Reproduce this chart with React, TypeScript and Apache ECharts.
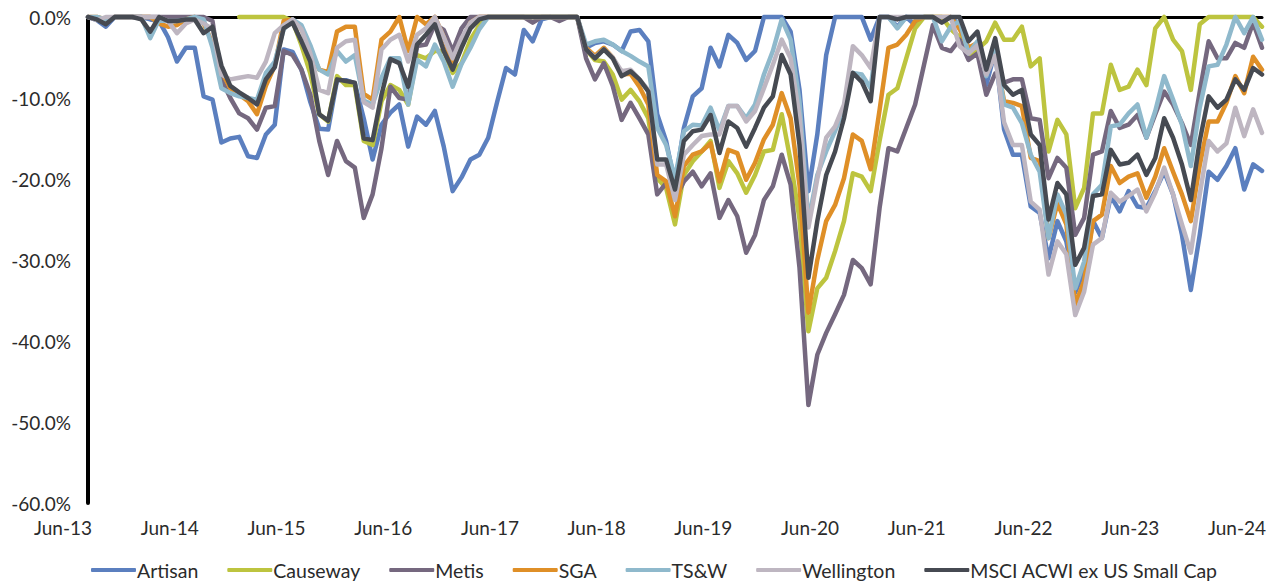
import { useEffect, useRef } from "react";
import * as echarts from "echarts";

// Monthly categories Jun-13 .. Jun-24 (133 months)
const MONTH_NAMES = ["Jan", "Feb", "Mar", "Apr", "May", "Jun", "Jul", "Aug", "Sep", "Oct", "Nov", "Dec"];
const categories: string[] = [];
for (let i = 0; i < 133; i++) {
  const m = (5 + i) % 12;
  const y = 13 + Math.floor((5 + i) / 12);
  categories.push(`${MONTH_NAMES[m]}-${y}`);
}

const yTicks = [0, -10, -20, -30, -40, -50, -60];

const artisan = [
  0, -0.4, -1.2, 0, 0, 0, 0, -0.3, -0.5, -2.5, -5.5, -3.8,
  -3.8, -9.8, -10.2, -15.5, -15.0, -14.8, -17.2, -17.4, -14.5, -13.3, -4.0, -4.3,
  -6.5, -10.5, -13.8, -13.9, -7.8, -7.8, -8.2, -12.5, -17.6, -13.3, -11.8, -10.8,
  -16.0, -12.3, -13.3, -11.6, -16.0, -21.5, -19.8, -17.6, -17.0, -14.9, -10.5, -6.3,
  -7.1, -1.6, -3.0, -0.3, 0, 0, 0, 0, -3.8, -3.2, -3.0, -3.4,
  -4.2, -1.8, -1.6, -3.0, -12.0, -15.3, -20.7, -13.7, -9.8, -8.8, -3.8, -6.1,
  -2.2, -3.2, -5.3, -4.2, 0, 0, 0, -1.8, -9.0, -21.5, -14.5, -4.7,
  0, 0, 0, 0, -2.8, 0, 0, -1.2, 0, -1.0, 0, 0,
  -0.5, 0, -1.0, -4.7, -4.0, -8.4, -4.2, -13.9, -17.0, -17.0, -23.4, -24.2,
  -29.8, -25.2, -27.7, -34.0, -31.4, -25.2, -27.3, -22.1, -24.0, -21.5, -23.4, -23.6,
  -21.5, -19.1, -21.9, -26.9, -33.7, -26.9, -19.1, -20.1, -18.4, -16.2, -21.3, -18.2,
  -19.0,
];

const causeway = [
  null, null, null, null, null, null, null, null, null, null, null, null,
  null, null, null, null, null, 0, 0, 0, 0, 0, 0, -0.5,
  -3.5, -7.0, -12.0, -12.9, -7.3, -8.4, -8.4, -15.3, -15.8, -10.4, -8.4, -9.0,
  -10.8, -4.7, -5.1, -4.2, -4.2, -6.9, -5.7, -2.8, -1.0, 0, 0, 0,
  0, 0, 0, 0, 0, 0, 0, 0, -4.0, -5.3, -5.5, -7.1,
  -10.2, -9.0, -10.4, -12.5, -19.9, -21.1, -25.6, -19.5, -17.8, -16.6, -15.3, -21.1,
  -17.8, -19.3, -21.7, -19.5, -16.6, -16.4, -12.0, -17.8, -25.0, -38.8, -33.5, -32.2,
  -28.9, -25.2, -19.3, -19.7, -21.5, -15.3, -9.6, -8.8, -5.1, -1.4, 0, 0,
  0, -1.5, -2.5, -5.1, -4.0, -3.0, -0.7, -2.8, -2.8, -1.2, -6.1, -5.1,
  -16.6, -12.7, -14.5, -23.6, -21.1, -11.9, -11.9, -5.9, -9.0, -8.6, -6.5, -8.4,
  -1.4, 0, -2.8, -4.2, -9.0, -0.9, 0, 0, 0, 0, 0, 0,
  -1.2,
];

const metis = [
  0, -0.3, -0.5, 0, 0, 0, 0, 0, 0, 0, 0, 0,
  0, 0, -0.5, -7.7, -10.0, -11.9, -12.5, -13.9, -11.2, -11.0, -4.2, -4.7,
  -6.5, -9.6, -15.3, -19.5, -15.3, -17.8, -18.6, -24.8, -21.9, -16.2, -8.6, -10.0,
  -10.2, -3.6, -3.4, -0.9, -1.6, -4.2, -1.4, 0, 0, 0, 0, 0,
  0, 0, -0.7, 0, 0, -0.5, 0, 0, -5.1, -7.7, -5.7, -8.5,
  -12.7, -10.6, -12.5, -14.5, -21.9, -20.5, -22.5, -20.3, -19.1, -20.9, -19.3, -24.8,
  -22.6, -24.6, -29.1, -26.9, -22.6, -20.9, -17.0, -20.7, -31.0, -47.9, -41.7, -39.0,
  -36.7, -34.3, -30.0, -31.0, -33.0, -23.6, -16.2, -16.6, -13.7, -10.8, -5.9, -1.0,
  -3.8, -4.2, -2.8, -5.3, -4.5, -9.6, -7.0, -8.1, -7.7, -7.7, -12.5, -12.7,
  -19.9, -17.4, -18.6, -26.9, -24.8, -17.0, -16.6, -11.6, -13.7, -13.3, -12.1, -14.9,
  -12.0, -9.2, -10.8, -13.1, -15.8, -9.2, -3.0, -5.1, -5.1, -3.2, -3.8, -0.7,
  -3.8,
];

const sga = [
  0, 0, -0.3, 0, 0, 0, 0, 0, -0.8, -1.2, -1.0, -0.3,
  0, -0.8, -3.2, -6.7, -8.8, -9.6, -10.4, -12.0, -8.5, -6.0, -0.5, -0.3,
  -1.5, -4.0, -6.5, -6.8, -1.8, -1.2, -1.2, -9.5, -10.2, -2.8, -1.8, 0,
  -4.2, 0, -0.9, 0, -2.5, -6.0, -3.0, -0.7, 0, 0, 0, 0,
  0, 0, 0, 0, 0, 0, 0, 0, -3.8, -4.8, -3.8, -5.0,
  -7.1, -7.0, -8.6, -10.8, -19.5, -20.3, -24.6, -18.4, -17.0, -16.6, -15.6, -20.3,
  -16.4, -16.8, -20.1, -18.0, -15.1, -13.3, -9.4, -12.5, -20.8, -36.5, -30.0, -25.2,
  -23.2, -19.9, -14.5, -15.3, -18.8, -11.5, -3.8, -3.4, -2.2, -0.5, 0, 0,
  0, 0, -1.5, -3.8, -3.2, -7.1, -4.5, -10.4, -10.6, -11.0, -17.4, -17.8,
  -27.3, -23.0, -25.6, -35.5, -32.6, -25.2, -24.4, -18.4, -20.5, -19.7, -19.3, -22.3,
  -19.7, -16.2, -19.1, -21.9, -25.2, -18.3, -12.9, -12.9, -10.6, -7.3, -9.4, -4.9,
  -6.5,
];

const tsw = [
  0, 0, -0.3, 0, 0, 0, 0, -2.6, -0.3, -0.5, -0.5, -0.3,
  0, -0.3, -3.8, -8.8, -9.4, -9.8, -10.0, -10.2, -6.9, -5.5, -1.5, -0.3,
  -1.0, -3.5, -6.5, -7.1, -4.2, -5.5, -4.7, -10.3, -10.8, -7.5, -5.1, -5.1,
  -10.8, -5.3, -6.1, -3.4, -5.5, -8.6, -5.8, -3.8, -1.5, 0, 0, 0,
  0, 0, 0, 0, 0, 0, 0, 0, -3.4, -3.0, -2.8, -3.4,
  -4.2, -4.8, -5.5, -6.1, -13.7, -15.8, -19.9, -14.1, -13.3, -13.4, -11.2, -14.0,
  -11.0, -11.0, -12.5, -10.8, -7.1, -4.2, -0.3, -2.8, -10.5, -25.2, -19.5, -16.6,
  -14.1, -11.2, -6.9, -7.1, -8.8, 0, 0, -1.4, 0, 0, 0, 0,
  -3.0, -1.2, -0.5, -4.5, -3.0, -7.3, -3.8, -10.8, -11.2, -13.1, -17.0, -19.1,
  -27.3, -21.9, -24.4, -33.5, -30.2, -21.9, -20.7, -13.5, -13.3, -11.9, -10.8, -14.9,
  -11.6, -7.3, -10.2, -13.3, -18.4, -11.2, -6.1, -5.9, -3.4, 0, -2.0, 0,
  -2.8,
];

const wellington = [
  0, -0.4, 0, 0, 0, 0, 0, 0, 0, -0.5, -2.0, -0.8,
  -0.3, -0.8, -1.5, -7.1, -7.7, -7.5, -7.3, -7.5, -5.5, -2.0, -1.0, -0.3,
  -1.5, -4.5, -9.0, -9.4, -3.8, -3.0, -2.8, -10.5, -11.2, -4.0, -2.8, -2.2,
  -5.5, -2.2, -1.4, 0, -2.5, -5.1, -2.6, -0.7, 0, 0, 0, 0,
  0, 0, 0, 0, 0, 0, 0, 0, -4.0, -5.0, -4.0, -5.0,
  -6.7, -6.5, -7.7, -9.0, -18.2, -18.2, -22.6, -17.0, -15.8, -14.7, -14.5, -14.5,
  -11.0, -11.0, -12.9, -11.6, -8.8, -5.9, -2.8, -5.1, -12.3, -26.0, -20.0, -14.9,
  -13.5, -10.8, -3.6, -4.7, -6.3, 0, 0, 0, 0, 0, 0, 0,
  0, 0, -3.6, -4.5, -3.5, -7.1, -4.8, -13.0, -15.8, -15.8, -22.8, -23.8,
  -31.8, -27.7, -29.3, -36.8, -33.9, -28.1, -27.3, -21.7, -22.8, -22.1, -21.3, -24.0,
  -21.7, -18.6, -21.9, -25.6, -29.1, -21.9, -15.3, -16.6, -15.6, -11.2, -14.7, -11.4,
  -14.3,
];

const msci = [
  0, -0.3, -0.9, 0, 0, 0, -0.3, -1.8, 0, -0.5, -0.5, -0.3,
  -0.3, -2.0, -1.2, -6.0, -8.5, -9.3, -10.0, -10.8, -7.7, -6.2, -1.4, -0.7,
  -3.0, -5.5, -12.0, -12.8, -7.7, -7.9, -8.1, -15.0, -15.2, -9.6, -5.2, -5.7,
  -8.6, -3.4, -2.2, -0.9, -4.2, -6.5, -3.8, -1.4, -0.3, 0, 0, 0,
  0, 0, 0, 0, 0, 0, 0, 0, -4.0, -5.1, -4.0, -5.1,
  -7.3, -6.7, -7.7, -9.2, -17.6, -17.6, -21.3, -15.3, -14.1, -13.9, -12.1, -16.8,
  -12.9, -13.7, -16.0, -13.7, -11.2, -9.8, -4.7, -7.1, -15.8, -32.2, -25.2, -19.5,
  -16.6, -12.5, -6.9, -8.0, -10.4, 0, 0, -0.3, 0, 0, 0, 0,
  -0.7, 0, 0, -3.0, -1.8, -6.5, -2.6, -8.4, -9.6, -9.0, -14.5, -15.8,
  -25.0, -20.5, -21.9, -30.6, -28.5, -22.1, -21.9, -16.4, -18.2, -18.0, -17.0, -19.5,
  -17.4, -12.5, -14.9, -18.2, -22.6, -15.3, -9.8, -11.2, -10.2, -7.7, -9.0, -6.3,
  -7.1,
];

const seriesDefs = [
  { name: "Artisan", data: artisan, color: "#5B7FBF" },
  { name: "Causeway", data: causeway, color: "#BDC43F" },
  { name: "Metis", data: metis, color: "#75687F" },
  { name: "SGA", data: sga, color: "#DF8F27" },
  { name: "TS&W", data: tsw, color: "#8FB9CC" },
  { name: "Wellington", data: wellington, color: "#BEB6C1" },
  { name: "MSCI ACWI ex US Small Cap", data: msci, color: "#464A52" },
];

const FONT = "Lato, 'Open Sans', sans-serif";
const TEXT_COLOR = "#2b2b2b";

export default function App() {
  const ref = useRef<HTMLDivElement>(null);

  useEffect(() => {
    if (!ref.current) return;
    const chart = echarts.init(ref.current, undefined, { renderer: "svg" });
    chart.setOption({
      animation: false,
      backgroundColor: "#ffffff",
      grid: { left: 88, right: 9, top: 17, bottom: 82, containLabel: false },
      legend: {
        data: seriesDefs.map((s) => s.name),
        left: 91,
        top: 560,
        padding: 0,
        icon: "roundRect",
        itemWidth: 45,
        itemHeight: 4,
        itemGap: 29,
        textStyle: { fontFamily: FONT, fontSize: 19.5, color: TEXT_COLOR, padding: [0, 0, 0, -4] },
      },
      xAxis: [
        {
          type: "category",
          data: categories,
          boundaryGap: false,
          position: "bottom",
          axisLine: { show: false },
          axisTick: { show: false },
          splitLine: { show: false },
          axisLabel: {
            interval: 11,
            margin: 15,
            fontFamily: FONT,
            fontSize: 19,
            color: TEXT_COLOR,
            padding: [0, 50, 0, 0],
          },
        },
        {
          type: "category",
          data: categories,
          boundaryGap: false,
          position: "top",
          axisLine: { show: true, onZero: false, lineStyle: { color: "#000000", width: 3 } },
          axisTick: { show: false },
          axisLabel: { show: false },
          splitLine: { show: false },
        },
      ],
      yAxis: {
        type: "value",
        min: yTicks[yTicks.length - 1],
        max: yTicks[0],
        interval: 10,
        axisLine: { show: true, lineStyle: { color: "#000000", width: 4 } },
        axisTick: { show: false },
        splitLine: { show: false },
        axisLabel: {
          margin: 17,
          fontFamily: FONT,
          fontSize: 19,
          color: TEXT_COLOR,
          formatter: (v: number) => `${v.toFixed(1)}%`,
        },
      },
      series: seriesDefs.map((s) => ({
        name: s.name,
        type: "line",
        xAxisIndex: 0,
        data: s.data,
        showSymbol: false,
        symbol: "none",
        clip: false,
        connectNulls: false,
        color: s.color,
        lineStyle: { color: s.color, width: 4.5, join: "round", cap: "round" },
        emphasis: { disabled: true },
      })),
    });
    return () => chart.dispose();
  }, []);

  return (
    <div
      ref={ref}
      style={{ position: "fixed", left: 0, top: 0, width: 1271, height: 585, background: "#fff" }}
    />
  );
}
